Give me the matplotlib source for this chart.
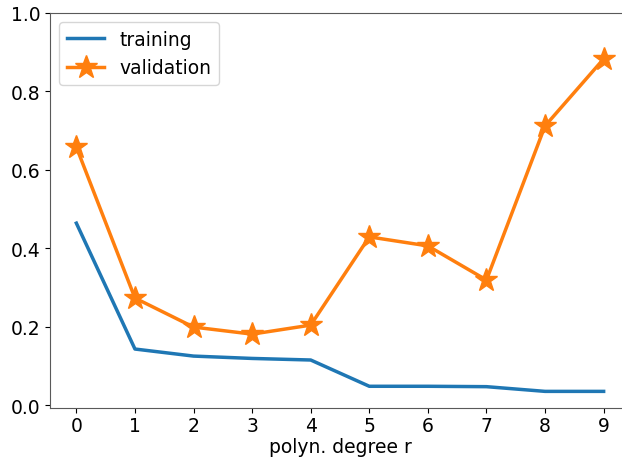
import matplotlib
matplotlib.use("Agg")
import matplotlib.pyplot as plt

# polynomial degree vs. error
degrees = [0, 1, 2, 3, 4, 5, 6, 7, 8, 9]
train_err = [0.464, 0.143, 0.125, 0.119, 0.115, 0.048, 0.048, 0.047, 0.035, 0.035]
val_err = [0.658, 0.273, 0.199, 0.181, 0.204, 0.429, 0.406, 0.319, 0.712, 0.883]

plt.rcParams['font.size'] = 13.5

fig = plt.figure(figsize=(6.22, 4.6), dpi=100)
# axes runs a bit past the right edge, like the cropped original
ax = fig.add_axes([50 / 622, 51 / 460, 580 / 622, 395 / 460])

ax.plot(degrees, train_err, color='tab:blue', lw=2.5, label='training')
ax.plot(degrees, val_err, color='tab:orange', lw=2.5, marker='*',
        markersize=17, label='validation')

ax.set_ylim(top=1.0)
ax.set_xticks(degrees)
ax.tick_params(axis='x', pad=2.5)
ax.set_xlabel('polyn. degree r', labelpad=1)
for side in ['top', 'bottom', 'left', 'right']:
    ax.spines[side].set_color('0.35')
ax.legend(loc='upper left')

fig.savefig('out.png', dpi=100)
